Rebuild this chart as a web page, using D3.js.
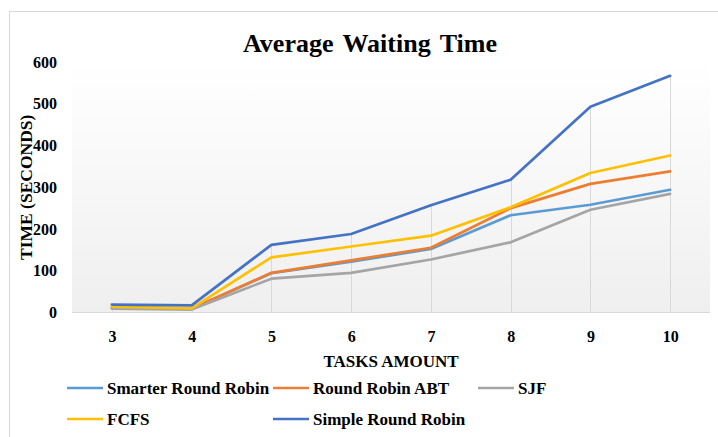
<!DOCTYPE html>
<html>
<head>
<meta charset="utf-8">
<script src="https://cdn.jsdelivr.net/npm/d3@7"></script>
<style>
  body { margin: 0; background: #fff; }
</style>
</head>
<body>
<div id="chart"></div>
<script>
// chart values
var tasks = [3, 4, 5, 6, 7, 8, 9, 10];
var smarterRR = [12, 9, 94, 122, 152, 233, 258, 294];
var rrABT = [12, 9, 95, 125, 155, 250, 308, 338];
var sjf = [9, 7, 81, 95, 127, 168, 246, 284];
var fcfs = [14, 10, 132, 158, 184, 252, 334, 376];
var simpleRR = [19, 17, 162, 188, 257, 318, 493, 567];
var yTicks = [0, 100, 200, 300, 400, 500, 600];

var seriesNames = ['Smarter Round Robin', 'Round Robin ABT', 'SJF', 'FCFS', 'Simple Round Robin'];
var seriesValues = [smarterRR, rrABT, sjf, fcfs, simpleRR];
var seriesColors = ['#5B9BD5', '#ED7D31', '#A5A5A5', '#FFC000', '#4472C4'];

var FONT = "'Liberation Serif'";
var width = 718, height = 437;
var plotLeft = 72, plotRight = 710, plotTop = 62, plotBottom = 312.5;

var svg = d3.select('#chart').append('svg')
  .attr('width', width)
  .attr('height', height);

// outer chart frame
svg.append('rect')
  .attr('x', 9.5).attr('y', 11.5)
  .attr('width', 730).attr('height', 450)
  .style('fill', '#fff')
  .style('stroke', '#d9d9d9');

var x = d3.scalePoint().domain(tasks).range([plotLeft, plotRight]).padding(0.5);
var y = d3.scaleLinear().domain([0, 600]).range([plotBottom, plotTop]);

// plot area gradient
var defs = svg.append('defs');
var grad = defs.append('linearGradient')
  .attr('id', 'plotGrad')
  .attr('x1', 0).attr('y1', 0).attr('x2', 0).attr('y2', 1);
grad.append('stop').attr('offset', '0%').attr('stop-color', '#ffffff');
grad.append('stop').attr('offset', '100%').attr('stop-color', '#efefef');

svg.append('rect')
  .attr('x', plotLeft).attr('y', plotTop)
  .attr('width', plotRight - plotLeft).attr('height', plotBottom - plotTop)
  .style('fill', 'url(#plotGrad)');

// drop lines from the highest point to the axis
svg.append('g').selectAll('line')
  .data(tasks)
  .enter()
  .append('line')
  .attr('x1', function(d) { return Math.round(x(d)) + 0.5; })
  .attr('x2', function(d) { return Math.round(x(d)) + 0.5; })
  .attr('y1', function(d, i) { return y(d3.max(seriesValues, function(s) { return s[i]; })); })
  .attr('y2', plotBottom)
  .style('stroke', '#d9d9d9')
  .style('stroke-width', 1);

// x axis
var xAxis = svg.append('g')
  .attr('transform', 'translate(0,' + plotBottom + ')')
  .call(d3.axisBottom(x).tickSize(0).tickPadding(18));
xAxis.select('.domain').style('stroke', '#d9d9d9').attr('d', 'M' + plotLeft + ',0H' + plotRight);
xAxis.selectAll('text')
  .style('font-family', FONT).style('font-weight', 'bold')
  .style('font-size', '16px').attr('dy', '0.71em');

// y axis (labels only)
var yAxis = svg.append('g')
  .attr('transform', 'translate(' + plotLeft + ',0)')
  .call(d3.axisLeft(y).tickValues(yTicks).tickSize(0).tickPadding(15));
yAxis.select('.domain').remove();
yAxis.selectAll('text')
  .style('font-family', FONT).style('font-weight', 'bold')
  .style('font-size', '16px');

// series lines
var line = d3.line()
  .x(function(d, i) { return x(tasks[i]); })
  .y(function(d) { return y(d); });

svg.append('g').selectAll('path')
  .data(seriesValues)
  .enter()
  .append('path')
  .attr('d', line)
  .style('fill', 'none')
  .style('stroke', function(d, i) { return seriesColors[i]; })
  .style('stroke-width', 2.7)
  .style('stroke-linejoin', 'round')
  .style('stroke-linecap', 'round');

// title
svg.append('text')
  .attr('x', 370).attr('y', 52)
  .attr('text-anchor', 'middle')
  .style('font-family', FONT).style('font-weight', 'bold')
  .style('font-size', '26px')
  .style('word-spacing', '3px')
  .text('Average Waiting Time');

// axis titles
svg.append('text')
  .attr('x', (plotLeft + plotRight) / 2).attr('y', 367)
  .attr('text-anchor', 'middle')
  .style('font-family', FONT).style('font-weight', 'bold')
  .style('font-size', '17px')
  .text('TASKS AMOUNT');

svg.append('text')
  .attr('transform', 'translate(32,' + ((plotTop + plotBottom) / 2) + ') rotate(-90)')
  .attr('text-anchor', 'middle')
  .style('font-family', FONT).style('font-weight', 'bold')
  .style('font-size', '17.5px')
  .text('TIME (SECONDS)');

// legend
var legendPos = [[67, 388], [273, 388], [478, 388], [67, 419], [273, 419]];
var legend = svg.append('g').selectAll('g')
  .data(seriesNames)
  .enter()
  .append('g')
  .attr('transform', function(d, i) { return 'translate(' + legendPos[i][0] + ',' + legendPos[i][1] + ')'; });

legend.append('line')
  .attr('x1', 0).attr('x2', 36)
  .attr('y1', 0).attr('y2', 0)
  .style('stroke', function(d, i) { return seriesColors[i]; })
  .style('stroke-width', 2.7);

legend.append('text')
  .attr('x', 40).attr('y', 0)
  .attr('dy', '0.35em')
  .style('font-family', FONT).style('font-weight', 'bold')
  .style('font-size', '17px')
  .text(function(d) { return d; });
</script>
</body>
</html>
